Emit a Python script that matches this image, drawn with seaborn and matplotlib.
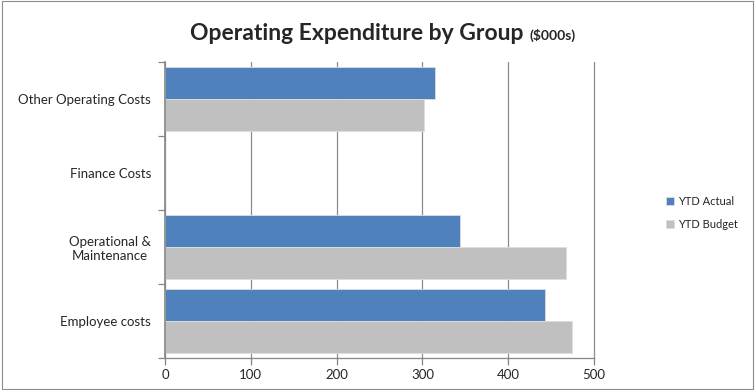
import matplotlib
matplotlib.use("Agg")
import matplotlib.pyplot as plt
from matplotlib.patches import Rectangle
from matplotlib.ticker import FixedLocator
import seaborn as sns
import pandas as pd

groups = ["Other Operating Costs", "Finance Costs", "Operational &\nMaintenance", "Employee costs"]
ytd_actual = [315, 0, 344, 443]
ytd_budget = [302, 0, 467, 474]
series_names = ["YTD Actual", "YTD Budget"]
x_ticks = [0, 100, 200, 300, 400, 500]

df = pd.DataFrame({
    "Group": groups * 2,
    "Value": ytd_actual + ytd_budget,
    "Series": [series_names[0]] * len(groups) + [series_names[1]] * len(groups),
})

sns.set_style("white")
plt.rcParams["font.family"] = ["Lato", "DejaVu Sans"]

fig = plt.figure(figsize=(7.55, 3.9), dpi=100)
ax = fig.add_axes([165 / 755, 1 - 358 / 390, (594 - 165) / 755, (358 - 62) / 390])

palette = {"YTD Actual": "#4F81BD", "YTD Budget": "#C0C0C0"}
sns.barplot(data=df, y="Group", x="Value", hue="Series", order=groups,
            hue_order=series_names, palette=palette, orient="y", width=0.865,
            saturation=1, edgecolor="#dddddd", linewidth=0.6, ax=ax, legend=True)

ax.set_xlim(0, 500)
ax.set_ylim(len(groups) - 0.5, -0.5)
ax.set_xticks(x_ticks)
ax.set_xticklabels([str(t) for t in x_ticks], fontsize=9.5)
ax.xaxis.grid(True, color="#8c8c8c", linewidth=0.9)
for gl in ax.get_xgridlines():
    gl.set_clip_on(False)
ax.set_axisbelow(True)
ax.set_xlabel("")
ax.set_ylabel("")

# category labels centred, tick marks on the boundaries between groups
ax.set_yticks(range(len(groups)))
ax.set_yticklabels(groups, fontsize=9.5, multialignment="center")
ax.tick_params(axis="y", which="major", length=0, pad=10)
ax.yaxis.set_minor_locator(FixedLocator([i - 0.5 for i in range(len(groups) + 1)]))
ax.tick_params(axis="y", which="minor", length=5, color="#868686", width=0.9, left=True)
ax.tick_params(axis="x", which="major", length=5, color="#868686", width=0.9, bottom=True, pad=3)

for side in ["top", "right"]:
    ax.spines[side].set_visible(False)
ax.spines["left"].set_color("#868686")
ax.spines["left"].set_linewidth(1.2)
ax.spines["bottom"].set_color("#868686")
ax.spines["bottom"].set_linewidth(0.9)

leg = ax.get_legend()
handles = leg.legend_handles
leg.remove()
fig.legend(handles, series_names, loc="center left", bbox_to_anchor=(662 / 755, 1 - 213 / 390),
           frameon=False, fontsize=8, handlelength=0.7, handleheight=0.7, handletextpad=0.3,
           labelspacing=1.1, borderaxespad=0)

fig.text(523 / 755, 1 - 33 / 390, "Operating Expenditure by Group", fontsize=16.5, fontweight="bold",
         ha="right", va="center")
fig.text(529 / 755, 1 - 35 / 390, "($000s)", fontsize=10, fontweight="bold", ha="left", va="center")

fig.patches.append(Rectangle((0.002, 0.003), 0.995, 0.994, transform=fig.transFigure,
                             fill=False, edgecolor="#8c8c8c", linewidth=0.8))

fig.savefig("out.png", dpi=100)
